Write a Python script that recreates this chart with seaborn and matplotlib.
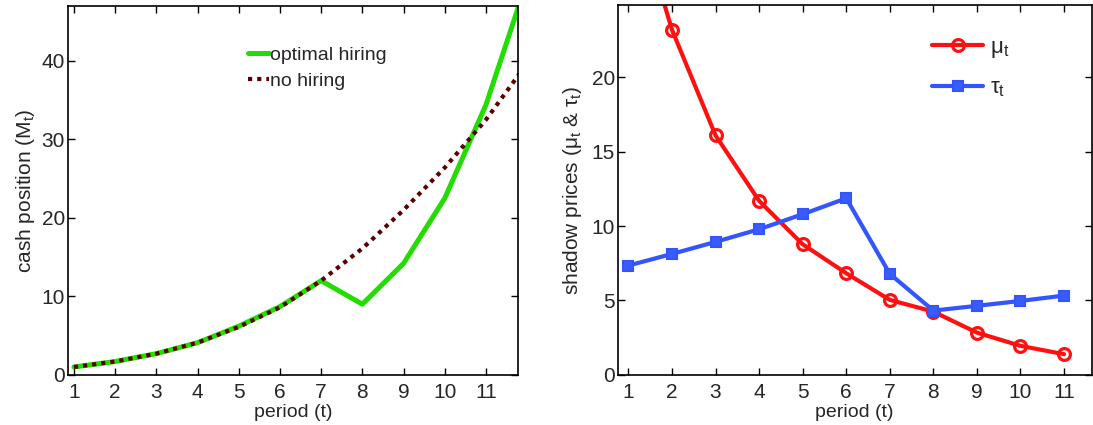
import pandas as pd
import matplotlib
matplotlib.use("Agg")
import matplotlib.pyplot as plt
import seaborn as sns

# left panel: cash position
period = [1, 2, 3, 4, 5, 6, 7, 8, 9, 10, 11, 12]
optimal_hiring = [1.0, 1.7, 2.7, 4.1, 6.2, 8.7, 12.0, 9.0, 14.2, 22.5, 34.4, 50.2]
no_hiring = [1.0, 1.7, 2.7, 4.1, 6.1, 8.6, 12.0, 16.1, 21.0, 26.4, 32.5, 39.7]

# right panel: shadow prices
period2 = [1, 2, 3, 4, 5, 6, 7, 8, 9, 10, 11]
mu = [33.0, 23.2, 16.1, 11.7, 8.78, 6.83, 5.04, 4.25, 2.84, 1.95, 1.39]
tau = [7.35, 8.13, 8.94, 9.79, 10.8, 11.87, 6.79, 4.32, 4.64, 4.97, 5.33]

left_yticks = [0, 10, 20, 30, 40]
right_yticks = [0, 5, 10, 15, 20]

sns.set_style("ticks")
plt.rcParams['font.family'] = ['Liberation Sans', 'DejaVu Sans']
plt.rcParams['mathtext.default'] = 'regular'
plt.rcParams['xtick.direction'] = 'in'
plt.rcParams['ytick.direction'] = 'in'
plt.rcParams['xtick.top'] = True
plt.rcParams['ytick.right'] = True

df1 = pd.DataFrame({"t": period, "opt": optimal_hiring, "no": no_hiring})
df2 = pd.DataFrame({"t": period2, "mu": mu, "tau": tau})

fig = plt.figure(figsize=(10.93, 4.25), dpi=100)
ax1 = fig.add_axes([0.062, 0.118, 0.412, 0.868])
ax2 = fig.add_axes([0.565, 0.118, 0.434, 0.870])

sns.lineplot(data=df1, x="t", y="opt", ax=ax1, color="#22dd00", lw=3.6,
             label="optimal hiring")
sns.lineplot(data=df1, x="t", y="no", ax=ax1, color="#5a0000", lw=3.0,
             linestyle=(0, (1, 1.2)), label="no hiring")
ax1.set_xlim(0.85, 11.78)
ax1.set_ylim(0, 47)
ax1.set_xticks(period[:-1])
ax1.set_yticks(left_yticks)
ax1.set_xlabel("period (t)", fontsize=14, labelpad=1)
ax1.set_ylabel("cash position (M$_t$)", fontsize=15, labelpad=3)
ax1.legend(loc="upper left", bbox_to_anchor=(0.379, 0.918), frameon=False,
           fontsize=14, handlelength=1.05, handletextpad=0.08, borderpad=0,
           labelspacing=0.45)

sns.lineplot(data=df2, x="t", y="mu", ax=ax2, color="#ff1010", lw=3.0,
             marker="o", markersize=8.5, markerfacecolor="none",
             markeredgecolor="#ff1010", markeredgewidth=2.3, label=r"$\mu_t$")
sns.lineplot(data=df2, x="t", y="tau", ax=ax2, color="#3355ff", lw=3.0,
             marker="s", markersize=7.5, markeredgewidth=1.5,
             markerfacecolor="#3a5cff", markeredgecolor="#3355ff",
             label=r"$\tau_t$")
ax2.set_xlim(0.75, 11.64)
ax2.set_ylim(0, 24.86)
ax2.set_xticks(period2)
ax2.set_yticks(right_yticks)
ax2.set_xlabel("period (t)", fontsize=14, labelpad=1)
ax2.set_ylabel(r"shadow prices ($\mu_t$ & $\tau_t$)", fontsize=15, labelpad=5)
ax2.legend(loc="upper left", bbox_to_anchor=(0.64, 0.945), frameon=False,
           fontsize=16, handlelength=2.3, handletextpad=0.3, borderpad=0,
           labelspacing=0.8)

for ax in (ax1, ax2):
    ax.tick_params(labelsize=15, length=5, width=1, color="black")
    ax.tick_params(axis="x", pad=6)
    ax.tick_params(axis="y", pad=2)
    for s in ax.spines.values():
        s.set_linewidth(1.2)
        s.set_color("black")
        s.set_visible(True)

fig.savefig("out.png", dpi=100)
